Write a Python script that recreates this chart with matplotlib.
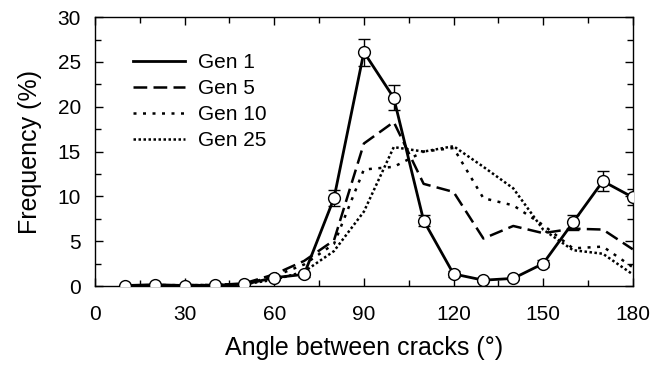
import numpy as np
import matplotlib
matplotlib.use('Agg')
import matplotlib.pyplot as plt
from matplotlib.ticker import MultipleLocator

plt.rcParams['font.family'] = ['Liberation Sans', 'DejaVu Sans']

# angle bins (deg)
angle = [10, 20, 30, 40, 50, 60, 70, 80, 90, 100, 110, 120, 130, 140, 150, 160, 170, 180]

gen1 = [0.05, 0.15, 0.05, 0.1, 0.19, 0.93, 1.3, 9.8, 26.1, 21.0, 7.3, 1.35, 0.65, 0.85, 2.5, 7.1, 11.7, 9.9]
gen1_err = [0.1, 0.1, 0.1, 0.1, 0.1, 0.3, 0.3, 0.9, 1.5, 1.4, 0.6, 0.3, 0.2, 0.2, 0.4, 0.8, 1.1, 0.9]
gen5 = [0.05, 0.05, 0.1, 0.1, 0.3, 1.3, 2.8, 5.1, 15.9, 18.3, 11.4, 10.5, 5.3, 6.7, 5.9, 6.4, 6.3, 4.1]
gen10 = [0.05, 0.1, 0.1, 0.1, 0.2, 1.1, 2.4, 4.7, 13.0, 13.3, 15.0, 15.4, 9.8, 9.0, 6.8, 4.2, 4.4, 2.1]
gen25 = [0.05, 0.05, 0.1, 0.1, 0.2, 0.7, 1.6, 3.9, 8.3, 15.5, 15.0, 15.6, 13.3, 10.9, 6.3, 4.0, 3.6, 1.3]

fig = plt.figure(figsize=(6.53, 3.65), dpi=100)
ax = fig.add_axes([0.1455, 0.2164, 0.8235, 0.7366])

ax.plot(angle, gen1, '-', color='black', lw=2.0, label='Gen 1', zorder=3)
ax.errorbar(angle, gen1, yerr=gen1_err, fmt='o', ms=8.5, mfc='white', mec='black',
            mew=1.0, ecolor='black', elinewidth=1.0, capsize=4, capthick=1.0, zorder=4)
ax.plot(angle, gen5, color='black', lw=1.8, dashes=(5.5, 2.5), label='Gen 5')
ax.plot(angle, gen10, color='black', lw=1.8, dashes=(1.2, 2.6), label='Gen 10')
ax.plot(angle, gen25, color='black', lw=1.8, dashes=(1.0, 1.0), label='Gen 25')

ax.set_xlim(0, 180)
ax.set_ylim(0, 30)
ax.xaxis.set_major_locator(MultipleLocator(30))
ax.xaxis.set_minor_locator(MultipleLocator(15))
ax.yaxis.set_major_locator(MultipleLocator(5))
ax.yaxis.set_minor_locator(MultipleLocator(2.5))
ax.tick_params(which='both', direction='in', top=True, right=True, width=1.0,
               labelsize=15)
ax.tick_params(axis='x', pad=14)
ax.tick_params(axis='y', pad=10)
ax.tick_params(which='major', length=6)
ax.tick_params(which='minor', length=4)
for s in ax.spines.values():
    s.set_linewidth(1.0)

ax.set_xlabel('Angle between cracks (°)', fontsize=18, labelpad=8.5)
ax.set_ylabel('Frequency (%)', fontsize=18, labelpad=11.5)

ax.legend(loc='upper left', bbox_to_anchor=(0.07, 0.865), frameon=False, fontsize=15,
          handlelength=2.5, handletextpad=0.63, borderaxespad=0, borderpad=0,
          labelspacing=0.33)

fig.savefig('out.png', dpi=100)
